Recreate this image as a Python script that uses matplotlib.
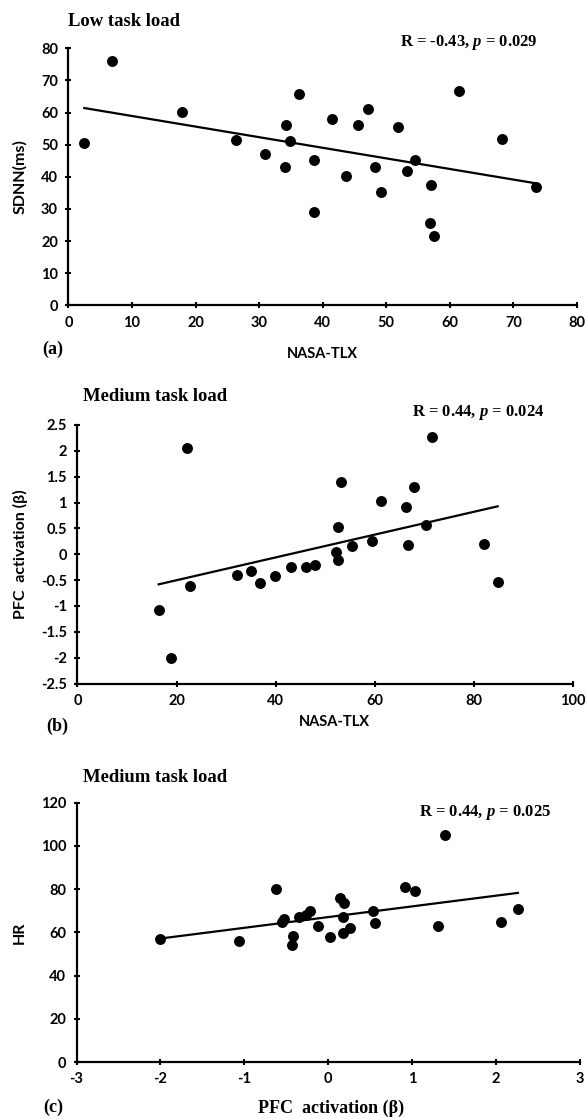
import numpy as np
import matplotlib
matplotlib.use("Agg")
import matplotlib.pyplot as plt

plt.rcParams["mathtext.fontset"] = "custom"
plt.rcParams["mathtext.it"] = "Liberation Serif:italic:bold"
plt.rcParams["mathtext.rm"] = "Liberation Serif:bold"
plt.rcParams["mathtext.bf"] = "Liberation Serif:bold"

# ---------------- data ----------------
# (a) Low task load: NASA-TLX vs SDNN(ms)
tlx_a = [2.5, 6.8, 17.9, 26.3, 31.0, 34.2, 34.1, 34.9, 36.2, 38.6, 38.7, 41.5, 43.6,
         45.5, 47.2, 48.2, 49.1, 51.9, 53.2, 54.5, 57.1, 56.9, 57.5, 61.5, 68.2, 73.6]
sdnn_a = [50.6, 76.2, 60.2, 51.5, 47.1, 56.2, 43.0, 51.0, 65.9, 45.2, 28.9, 58.1, 40.1,
          56.0, 61.1, 43.0, 35.2, 55.4, 41.8, 45.2, 37.3, 25.7, 21.7, 66.7, 51.7, 36.7]

# (b) Medium task load: NASA-TLX vs PFC activation (beta)
tlx_b = [16.4, 18.9, 22.2, 22.7, 32.2, 35.1, 36.9, 39.8, 43.1, 46.1, 48.0, 52.1, 52.6,
         52.6, 53.1, 55.4, 59.4, 61.2, 66.4, 66.7, 67.9, 70.4, 71.6, 82.0, 84.8]
pfc_b = [-1.07, -2.00, 2.06, -0.62, -0.41, -0.33, -0.55, -0.42, -0.24, -0.25, -0.20, 0.04,
         -0.12, 0.53, 1.39, 0.16, 0.26, 1.03, 0.92, 0.18, 1.31, 0.56, 2.26, 0.19, -0.53]

# (c) Medium task load: PFC activation (beta) vs HR
pfc_c = [-2.00, -1.07, -0.62, -0.55, -0.53, -0.43, -0.42, -0.35, -0.26, -0.22, -0.12, 0.02,
         0.14, 0.19, 0.17, 0.18, 0.26, 0.53, 0.56, 0.91, 1.03, 1.31, 1.39, 2.06, 2.26]
hr_c = [57, 56, 80, 64.7, 66.4, 54, 58.3, 67.3, 67.8, 69.9, 62.9, 57.9,
        76.1, 73.8, 66.9, 59.8, 61.8, 69.9, 64.1, 81, 79, 63, 105, 65, 71]

titles = ["Low task load", "Medium task load", "Medium task load"]
stats = [("-0.43", "0.029"), ("0.44", "0.024"), ("0.44", "0.025")]
panel_tags = ["(a)", "(b)", "(c)"]
xlabels = ["NASA-TLX", "NASA-TLX", "PFC  activation (β)"]
ylabels = ["SDNN(ms)", "PFC  activation (β)", "HR"]
xticks_list = [list(range(0, 81, 10)), list(range(0, 101, 20)), list(range(-3, 4))]
yticks_list = [list(range(0, 81, 10)), [-2.5, -2, -1.5, -1, -0.5, 0, 0.5, 1, 1.5, 2, 2.5],
               list(range(0, 121, 20))]

# ---------------- figure ----------------
W, H = 586, 1119
fig = plt.figure(figsize=(W / 100, H / 100), dpi=100)

SANS = "Lato"
SERIF = "Liberation Serif"


def fx(px):
    return px / W


def fy(py):
    return 1 - py / H


# axes boxes in pixels: left, right, top, bottom
boxes = [(68.4, 577, 48.3, 305.3), (77.4, 573, 425, 683.5), (76.6, 580, 802.7, 1062)]
data = [(tlx_a, sdnn_a), (tlx_b, pfc_b), (pfc_c, hr_c)]

# text positions (pixels)
title_pos = [(68, 21), (83, 397), (83, 777)]
stat_pos = [(538, 43), (544, 412), (551, 812)]
tag_pos = [(42, 349), (46, 726), (43, 1107)]
xlab_pos = [(322, 354), (334, 722), (331, 1108)]
ylab_x = 20

for i in range(3):
    l, r, t, b = boxes[i]
    ax = fig.add_axes([fx(l), fy(b), fx(r) - fx(l), fy(t) - fy(b)])
    x = np.array(data[i][0], dtype=float)
    y = np.array(data[i][1], dtype=float)
    ax.scatter(x, y, s=62, color="black", zorder=3, linewidths=0)
    k, c0 = np.polyfit(x, y, 1)
    xs = np.array([x.min(), x.max()])
    ax.plot(xs, k * xs + c0, color="black", lw=1.6, zorder=2)

    xt, yt = xticks_list[i], yticks_list[i]
    ax.set_xlim(xt[0], xt[-1])
    ax.set_ylim(yt[0], yt[-1])
    ax.set_xticks(xt)
    ax.set_yticks(yt)
    ax.set_xticklabels([f"{v:g}" for v in xt])
    ax.set_yticklabels([f"{v:g}" for v in yt])
    for s in ["top", "right"]:
        ax.spines[s].set_visible(False)
    for s in ["left", "bottom"]:
        ax.spines[s].set_linewidth(1.6)
    ax.tick_params(direction="inout", length=5, width=1.5, labelsize=10.5, pad=5)
    for lab in ax.get_xticklabels() + ax.get_yticklabels():
        lab.set_fontfamily(SANS)
        lab.set_fontweight("bold")
    ax.patch.set_alpha(0)

    # titles and annotations
    fig.text(fx(title_pos[i][0]), fy(title_pos[i][1]), titles[i], family=SERIF,
             weight="bold", fontsize=13.4, ha="left", va="center")
    rv, pv = stats[i]
    fig.text(fx(stat_pos[i][0]), fy(stat_pos[i][1]),
             rf"R = {rv}, $\mathit{{p}}$ = {pv}", family=SERIF, weight="bold",
             fontsize=12, ha="right", va="center")
    fig.text(fx(tag_pos[i][0]), fy(tag_pos[i][1]), panel_tags[i], family=SERIF,
             weight="bold", fontsize=13, ha="left", va="center")
    xfam = SERIF if i == 2 else SANS
    xsize = 13 if i == 2 else 10.5
    fig.text(fx(xlab_pos[i][0]), fy(xlab_pos[i][1]), xlabels[i], family=xfam,
             weight="bold", fontsize=xsize, ha="center", va="center")
    fig.text(fx(ylab_x), fy((t + b) / 2), ylabels[i], family=SANS, weight="bold",
             fontsize=11.5, rotation=90, ha="center", va="center")

fig.savefig("out.png", dpi=100)
